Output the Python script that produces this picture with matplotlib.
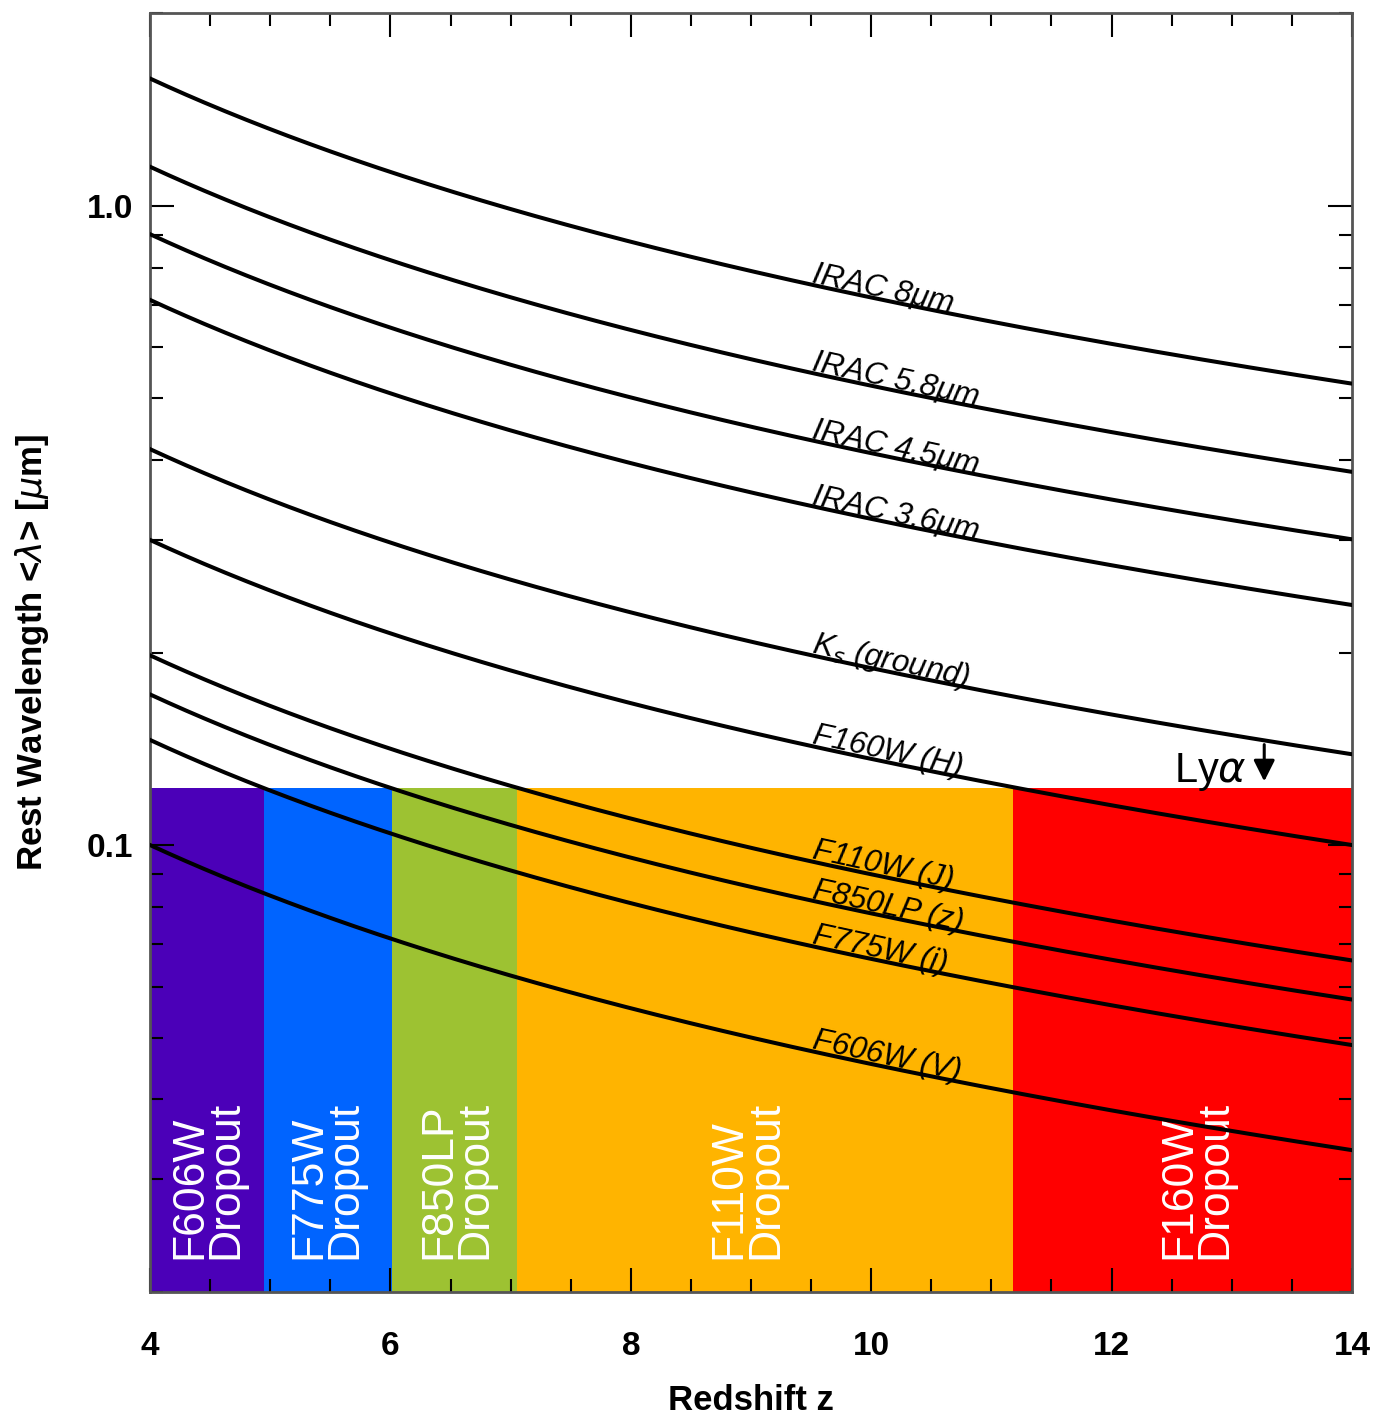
import numpy as np
import matplotlib
matplotlib.use('Agg')
import matplotlib.pyplot as plt
from matplotlib.ticker import LogLocator, NullFormatter, MultipleLocator

filtros = ['IRAC 8μm', 'IRAC 5.8μm', 'IRAC 4.5μm', 'IRAC 3.6μm',
           r'K$_s$ (ground)', 'F160W (H)', 'F110W (J)', 'F850LP (z)',
           'F775W (i)', 'F606W (V)']
lam_obs = [7.9, 5.75, 4.51, 3.56, 2.08, 1.50, 0.99, 0.86, 0.73, 0.50]

# Faixas de "dropout" (limites em redshift) e o corte de Lyman alfa
faixas = ['F606W\nDropout', 'F775W\nDropout', 'F850LP\nDropout',
          'F110W\nDropout', 'F160W\nDropout']
limites_z = [4.0, 4.95, 6.01, 7.05, 11.18, 14.0]
cores = ['#4B00B8', '#0064FF', '#9DC232', '#FFB400', '#FF0000']
lya_corte = 0.123

# posicao horizontal dos rotulos das faixas
pos_rotulo = [4.48, 5.47, 6.55, 8.97, 12.71]

z = np.linspace(4, 14, 400)

fig = plt.figure(figsize=(13.79, 14.19), dpi=100)
ax = fig.add_axes([0.1088, 0.0895, 0.8716, 0.9013])
ax.set_xlim(4, 14)
ax.set_ylim(0.02, 2.0)
ax.set_yscale('log')

# Faixas coloridas abaixo de Lya
for i in range(len(faixas)):
    ax.fill_between([limites_z[i], limites_z[i + 1]], 0.02, lya_corte,
                    color=cores[i], lw=0, zorder=1)
    ax.text(pos_rotulo[i], 0.0225, faixas[i], rotation=90, ha='center',
            va='bottom', multialignment='left', color='white', fontsize=32,
            linespacing=0.85,
            family=['Liberation Sans Narrow', 'Liberation Sans'])

# Curvas de comprimento de onda de repouso
for nome, lam in zip(filtros, lam_obs):
    ax.plot(z, lam / (1 + z), color='black', lw=2.9, zorder=3)
    z0 = 9.5
    p1 = ax.transData.transform((z0, lam / (1 + z0)))
    p2 = ax.transData.transform((z0 + 0.2, lam / (1 + z0 + 0.2)))
    ang = np.degrees(np.arctan2(p2[1] - p1[1], p2[0] - p1[0]))
    ax.annotate(nome, (z0, lam / (1 + z0)), xytext=(0, 2),
                textcoords='offset points', rotation=ang,
                rotation_mode='anchor', ha='left', va='baseline',
                fontsize=22.5, style='italic', family='Liberation Sans',
                zorder=4)

# Rotulo Lya com seta
ax.text(12.52, 0.1255, r'Ly$\alpha$', fontsize=30, family='Liberation Sans',
        ha='left', va='baseline', zorder=4)
ax.annotate('', xy=(13.27, 0.1245), xytext=(13.27, 0.145),
            arrowprops=dict(arrowstyle='-|>', color='black', lw=2.2,
                            mutation_scale=32), zorder=4)

# Eixos
ax.set_yticks([0.1, 1.0])
ax.set_yticklabels(['0.1', '1.0'])
ax.yaxis.set_minor_locator(LogLocator(base=10, subs=np.arange(2, 10)))
ax.yaxis.set_minor_formatter(NullFormatter())
ax.xaxis.set_major_locator(MultipleLocator(2))
ax.xaxis.set_minor_locator(MultipleLocator(0.5))

ax.tick_params(which='both', direction='in', top=True, right=True,
               width=1.5, color='black')
ax.tick_params(which='major', length=17)
ax.tick_params(which='minor', length=9.5)
ax.tick_params(axis='x', which='major', pad=28, labelsize=24)
ax.tick_params(axis='y', which='major', pad=12, labelsize=24)
for lab in ax.get_xticklabels() + ax.get_yticklabels():
    lab.set_fontweight('bold')
    lab.set_family('Liberation Sans')
for s in ax.spines.values():
    s.set_color('#555555')
    s.set_linewidth(2)

ax.set_xlabel('Redshift z', fontsize=25, fontweight='bold',
              family='Liberation Sans', labelpad=16)
ax.set_ylabel(r'Rest Wavelength <$\lambda$> [$\mu$m]', fontsize=25,
              fontweight='bold', family='Liberation Sans', labelpad=26)

fig.savefig('out.png', dpi=100)
